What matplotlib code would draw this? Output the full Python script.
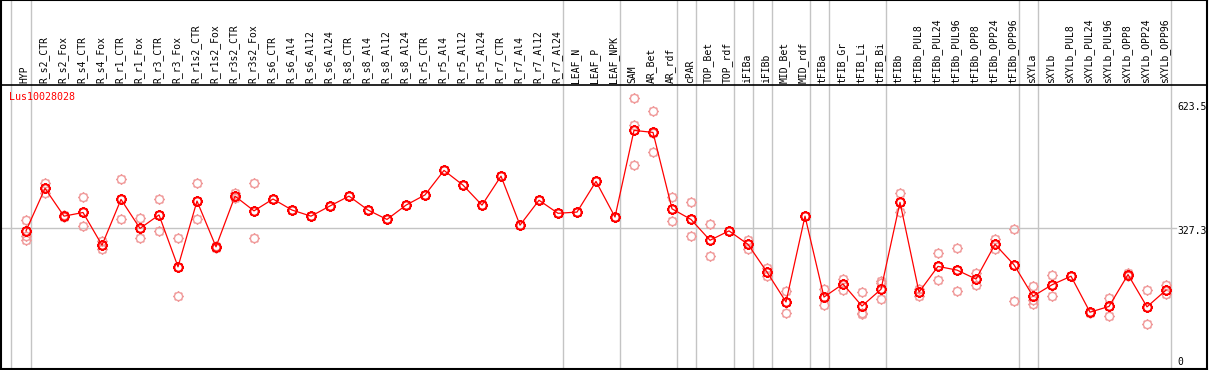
import numpy as np
import matplotlib
matplotlib.use("Agg")
import matplotlib.pyplot as plt
from matplotlib.path import Path

samples = ["HYP", "R_s2_CTR", "R_s2_Fox", "R_s4_CTR", "R_s4_Fox", "R_r1_CTR", "R_r1_Fox",
           "R_r3_CTR", "R_r3_Fox", "R_r1s2_CTR", "R_r1s2_Fox", "R_r3s2_CTR", "R_r3s2_Fox",
           "R_s6_CTR", "R_s6_Al4", "R_s6_Al12", "R_s6_Al24", "R_s8_CTR", "R_s8_Al4", "R_s8_Al12",
           "R_s8_Al24", "R_r5_CTR", "R_r5_Al4", "R_r5_Al12", "R_r5_Al24", "R_r7_CTR", "R_r7_Al4",
           "R_r7_Al12", "R_r7_Al24", "LEAF_N", "LEAF_P", "LEAF_NPK", "SAM", "AR_Bet", "AR_rdf",
           "cPAR", "TOP_Bet", "TOP_rdf", "iFIBa", "iFIBb", "MID_Bet", "MID_rdf", "tFIBa",
           "tFIB_Gr", "tFIB_Li", "tFIB_Bi", "tFIBb", "tFIBb_PUL8", "tFIBb_PUL24", "tFIBb_PUL96",
           "tFIBb_OPP8", "tFIBb_OPP24", "tFIBb_OPP96", "sXYLa", "sXYLb", "sXYLb_PUL8",
           "sXYLb_PUL24", "sXYLb_PUL96", "sXYLb_OPP8", "sXYLb_OPP24", "sXYLb_OPP96"]

means = [321, 425, 357, 366, 286, 398, 327, 360, 233, 394, 282, 406, 370,
         399, 372, 357, 382, 406, 372, 349, 384, 409, 469, 433, 384, 455, 335,
         396, 364, 367, 442, 355, 567, 562, 375, 349, 298, 321, 288, 220, 147,
         357, 159, 191, 137, 178, 391, 171, 234, 225, 203, 288, 238, 161, 189,
         210, 122, 136, 214, 135, 176]

rep1 = [348, 437, 360, 403, 296, 448, 352, 398, 303, 437, 280, 413, 437,
        399, 372, 357, 382, 406, 372, 349, 384, 409, 469, 433, 384, 455, 335,
        396, 364, 367, 442, 355, 646, 614, 403, 391, 337, 321, 299, 231, 173,
        357, 178, 202, 171, 198, 414, 178, 266, 278, 219, 300, 326, 185, 213,
        210, 122, 157, 217, 176, 189]
rep2 = [308, 425, 357, 366, 286, 398, 327, 360, 233, 394, 282, 406, 370,
        399, 372, 357, 382, 406, 372, 349, 384, 409, 469, 433, 384, 455, 335,
        396, 364, 367, 442, 355, 579, 560, 375, 349, 298, 321, 288, 220, 147,
        357, 159, 191, 121, 193, 391, 171, 234, 225, 203, 288, 238, 151, 189,
        210, 122, 136, 214, 135, 176]
rep3 = [299, 413, 354, 332, 276, 349, 303, 321, 162, 349, 283, 401, 303,
        399, 372, 357, 382, 406, 372, 349, 384, 409, 469, 433, 384, 455, 335,
        396, 364, 367, 442, 355, 482, 513, 345, 308, 259, 321, 277, 211, 119,
        357, 139, 176, 118, 154, 368, 162, 200, 173, 188, 277, 149, 143, 161,
        210, 120, 113, 211, 92, 166]

group_ends = [0, 28, 31, 34, 35, 37, 38, 39, 41, 42, 45, 52, 53, 60]
gene = "Lus10028028"
ytick_vals = [0, 327.3, 623.5]
ytick_labels = ["0", "327.3", "623.5"]

W, H = 1209, 370
fig = plt.figure(figsize=(W / 100, H / 100), dpi=100)
ax = fig.add_axes([1 / W, 1 / H, 1206 / W, 369 / H])

# pixel <-> data mapping helpers (layout only)
X0, DX = 26.0, 19.0
Y0, SY = 362.0, 0.4085
def px_x(p):
    return (p - X0) / DX
def px_y(p):
    return (Y0 - p) / SY

ax.set_xlim(px_x(1), px_x(1207))
ax.set_ylim(px_y(369), px_y(0))
ax.set_xticks([])
ax.set_yticks([])
for s in ax.spines.values():
    s.set_color("black")
    s.set_linewidth(1.5)

grey = "#c4c4c4"
# group separators
ax.axvline(px_x(10.7), color=grey, lw=1.0, zorder=1)
for g in group_ends:
    ax.axvline(g + 0.25, color=grey, lw=1.0, zorder=1)

# reference line at middle tick
ax.plot([px_x(1), px_x(1176)], [ytick_vals[1]] * 2, color=grey, lw=1.0, zorder=1)

# header separator
ax.axhline(px_y(85), color="black", lw=1.2, zorder=5)

# marker: circle with small radial ticks
circ = Path.unit_circle()
tick_paths = []
for a in np.arange(8) * np.pi / 4:
    tick_paths.append(Path([(np.cos(a), np.sin(a)), (1.3 * np.cos(a), 1.3 * np.sin(a))],
                           [Path.MOVETO, Path.LINETO]))
gear = Path.make_compound_path(circ, *tick_paths)

x = np.arange(len(samples))
pink = "#f09a9a"
for reps in (rep1, rep2, rep3):
    ax.plot(x, reps, linestyle="none", marker=gear, markersize=7.6,
            markerfacecolor="none", markeredgecolor=pink, markeredgewidth=1.0, zorder=2)

ax.plot(x, means, color="red", lw=0.9, zorder=3)
ax.plot(x, means, linestyle="none", marker=gear, markersize=7.8,
        markerfacecolor="none", markeredgecolor="red", markeredgewidth=1.4, zorder=4)

mono = "DejaVu Sans Mono"
for i, name in enumerate(samples):
    ax.text(i - 0.07, px_y(83), name, rotation=90, ha="center", va="bottom",
            fontsize=7, family=mono, color="black", zorder=6)

ax.text(px_x(9), px_y(97), gene, ha="left", va="center", fontsize=7.2,
        family=mono, color="red", zorder=6)

offsets = [0, 3, 0]
for v, lab, off in zip(ytick_vals, ytick_labels, offsets):
    ax.text(px_x(1177), v - off / SY, lab, ha="left", va="center", fontsize=7,
            family=mono, color="black", zorder=6)

fig.savefig("out.png", dpi=100)
